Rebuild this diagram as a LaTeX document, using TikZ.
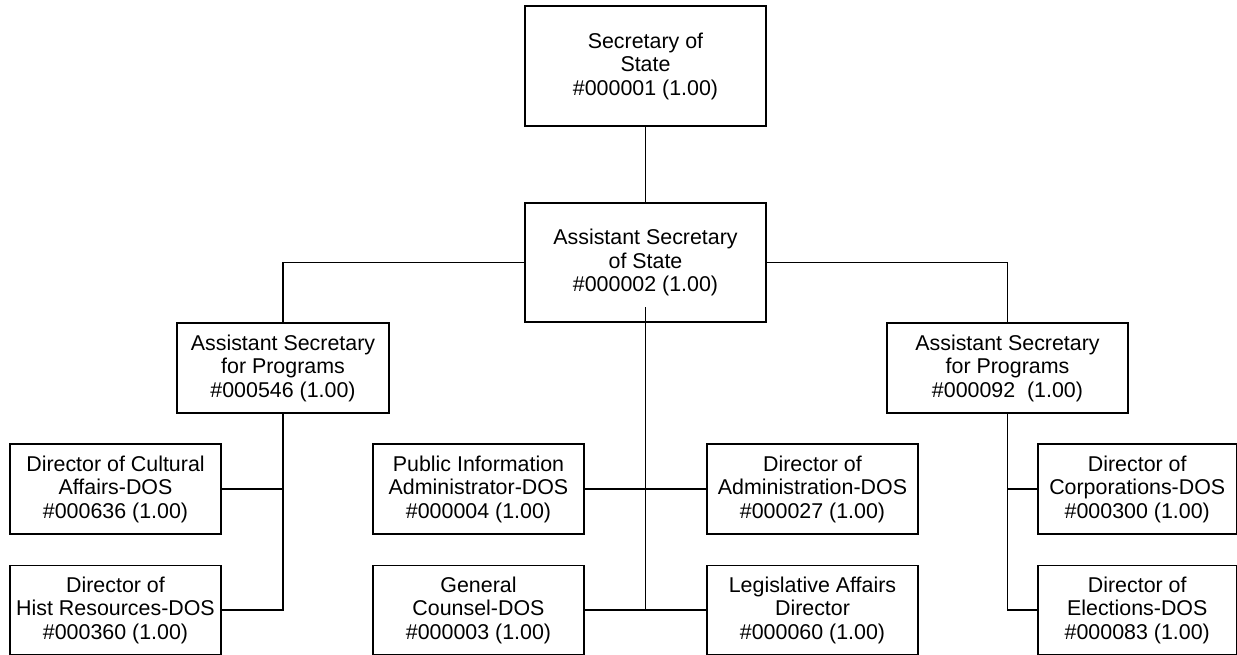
\documentclass[tikz,border=0pt]{standalone}
\usepackage{fontspec}
\setmainfont{Liberation Sans}
\begin{document}
\begin{tikzpicture}[x=1pt,y=-1pt,
  post/.style={draw=black, line width=1.8pt, fill=white, align=center,
    inner sep=0pt, text=black, font=\fontsize{21.4}{23.5}\selectfont},
  link/.style={draw=black, line width=1.8pt}]
\useasboundingbox (0,0) rectangle (1237,655);

% executive level
\node[post, minimum width=241pt, minimum height=120pt] (sec) at (645.5,66)
  {Secretary of\\State\\\#000001 (1.00)};
\node[post, minimum width=241pt, minimum height=119pt] (asst) at (645.5,262.5)
  {Assistant Secretary\\of State\\\#000002 (1.00)};

% program branches
\node[post, minimum width=212pt, minimum height=90pt] (lprog) at (283,368)
  {Assistant Secretary\\for Programs\\\#000546 (1.00)};
\node[post, minimum width=241pt, minimum height=90pt] (rprog) at (1007.5,368)
  {Assistant Secretary\\for Programs\\\#000092\ \ (1.00)};

% directors under the left branch
\node[post, minimum width=211pt, minimum height=90pt] (cult) at (115.5,489)
  {Director of Cultural\\Affairs-DOS\\\#000636 (1.00)};
\node[post, minimum width=211pt, minimum height=89pt] (hist) at (115.5,610)
  {Director of\\Hist Resources-DOS\\\#000360 (1.00)};

% staff reporting to the assistant secretary of state
\node[post, minimum width=211pt, minimum height=90pt] (pub) at (478.5,489)
  {Public Information\\Administrator-DOS\\\#000004 (1.00)};
\node[post, minimum width=211pt, minimum height=89pt] (gen) at (478.5,610)
  {General\\Counsel-DOS\\\#000003 (1.00)};
\node[post, minimum width=211pt, minimum height=90pt] (adm) at (812.5,489)
  {Director of\\Administration-DOS\\\#000027 (1.00)};
\node[post, minimum width=211pt, minimum height=89pt] (leg) at (812.5,610)
  {Legislative Affairs\\Director\\\#000060 (1.00)};

% directors under the right branch
\node[post, minimum width=198.5pt, minimum height=90pt] (corp) at (1137.25,489)
  {Director of\\Corporations-DOS\\\#000300 (1.00)};
\node[post, minimum width=198.5pt, minimum height=89pt] (elec) at (1137.25,610)
  {Director of\\Elections-DOS\\\#000083 (1.00)};

% reporting lines
\draw[link] (sec.south) -- (asst.north);
\draw[link] (asst.west) -| (lprog.north);
\draw[link] (asst.east) -| (rprog.north);

\coordinate (cstart) at (645.5,307);
\draw[link] (cstart) -- (cstart |- gen.east);
\draw[link] (pub.east) -- (adm.west);
\draw[link] (gen.east) -- (leg.west);

\draw[link] (lprog.south) -- (lprog.south |- hist.east) -- (hist.east);
\draw[link] (cult.east) -- (cult.east -| lprog.south);

\draw[link] (rprog.south) -- (rprog.south |- elec.west) -- (elec.west);
\draw[link] (corp.west) -- (corp.west -| rprog.south);
\end{tikzpicture}
\end{document}
